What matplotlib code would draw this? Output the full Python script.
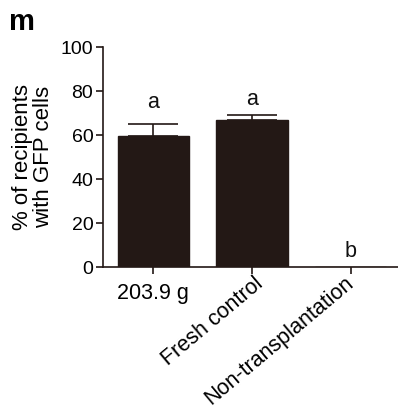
import matplotlib
matplotlib.use("Agg")
import matplotlib.pyplot as plt

plt.rcParams['font.family'] = ['Liberation Sans', 'DejaVu Sans']

categories = ["203.9 g", "Fresh control", "Non-transplantation"]
values = [59.5, 66.8, 0.0]
errors = [5.3, 2.3, 0.0]
letters = ["a", "a", "b"]
letter_y = [72.5, 73.5, 4.5]
yticks = [0, 20, 40, 60, 80, 100]

DPI = 100
fig = plt.figure(figsize=(3.98, 4.12), dpi=DPI)
ax = fig.add_axes([103 / 398, 145 / 412, 295 / 398, 220 / 412])

x = list(range(len(categories)))
bar_color = "#231815"
ax.bar(x, values, width=0.725, color=bar_color, edgecolor=bar_color, zorder=2)
for xi, v, e in zip(x, values, errors):
    if e > 0:
        ax.errorbar([xi], [v], yerr=[[0], [e]], fmt="none", ecolor="#231815",
                    elinewidth=1.2, capsize=18, capthick=1.2, zorder=1)

for xi, lab, ly in zip(x, letters, letter_y):
    ax.text(xi, ly, lab, ha="center", va="baseline", fontsize=15.5, color="#111111")

ax.set_xlim(-0.51, 2.48)
ax.set_ylim(0, 100)
ax.set_yticks(yticks)
ax.set_yticklabels([str(t) for t in yticks], fontsize=14)
ax.set_xticks(x)

# first category label is horizontal, the others are slanted
rotated = {1: (2, -6), 2: (-6, -6)}  # offsets in pixels from the tick
ax.set_xticklabels([c if i not in rotated else "" for i, c in enumerate(categories)],
                   fontsize=15.5)
for i, (dx, dy) in rotated.items():
    ax.annotate(categories[i], xy=(x[i], 0), xycoords=("data", "axes fraction"),
                xytext=(dx * 72 / DPI, dy * 72 / DPI), textcoords="offset points",
                rotation=40, rotation_mode="anchor", ha="right", va="top",
                fontsize=15.5, annotation_clip=False)

for side in ("top", "right"):
    ax.spines[side].set_visible(False)
for side in ("left", "bottom"):
    ax.spines[side].set_linewidth(1.2)
    ax.spines[side].set_color("#231815")
ax.tick_params(direction="out", length=5, width=1.2, color="#231815")
ax.tick_params(axis="y", pad=2)
ax.tick_params(axis="x", pad=6.5)

ax.set_ylabel("% of recipients\nwith GFP cells", fontsize=16, linespacing=1.0, labelpad=5)

fig.text(9 / 398, 1 - 30 / 412, "m", fontsize=21, fontweight="bold", va="baseline")

fig.savefig("out.png", dpi=DPI)
